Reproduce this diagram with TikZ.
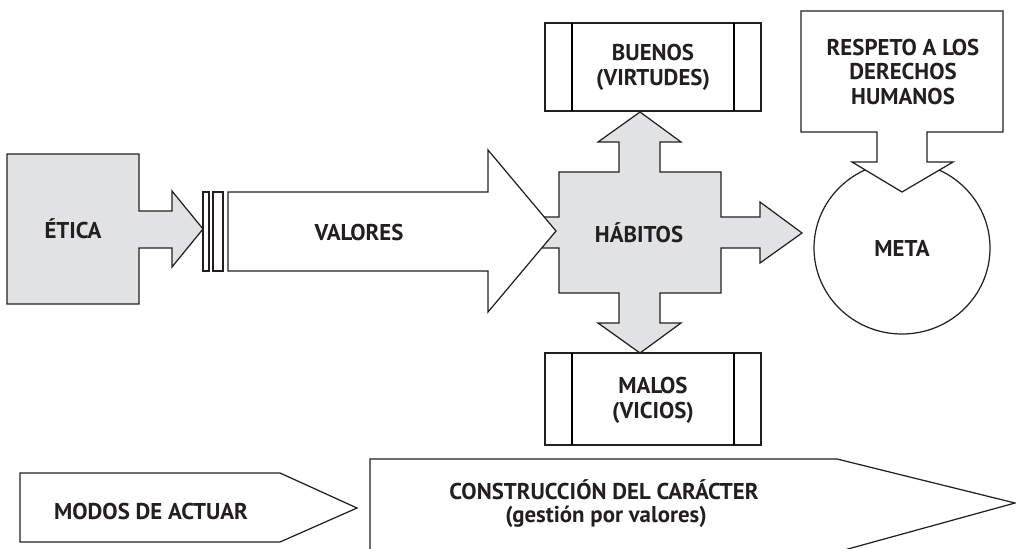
\documentclass[tikz,border=0pt]{standalone}
\usepackage{fontspec}
\setmainfont{PT Sans}
\definecolor{grisclaro}{RGB}{225,226,228}
\definecolor{tinta}{RGB}{35,31,32}
\begin{document}
\begin{tikzpicture}[x=0.02cm,y=-0.02cm,line width=0.7pt,line join=miter,
  txt/.style={font=\fontsize{13}{14.2}\selectfont\bfseries,text=tinta,align=center},
  gris/.style={draw=tinta,fill=grisclaro},
  blanco/.style={draw=tinta,fill=white}]
\useasboundingbox (0,0) rectangle (1016,548);

% etica
\draw[gris] (7,154) -- (139,154) -- (139,211) -- (172,211) -- (172,191) -- (203,229)
  -- (172,267) -- (172,248) -- (139,248) -- (139,304) -- (7,304) -- cycle;
\node[txt] (E) at (73,229) {ÉTICA};

\draw[blanco] (203,192) rectangle (209,271);
\draw[blanco] (213,192) rectangle (223,271);

% habitos
\draw[gris] (530,217) -- (559,217) -- (559,172) -- (619,172) -- (619,142) -- (598,142)
  -- (640,112) -- (681,142) -- (660,142) -- (660,172) -- (721,172) -- (721,217)
  -- (760,217) -- (760,202) -- (802,233) -- (760,263) -- (760,248) -- (721,248)
  -- (721,293) -- (660,293) -- (660,323) -- (681,323) -- (640,353) -- (598,323)
  -- (619,323) -- (619,293) -- (559,293) -- (559,248) -- (530,248) -- cycle;
\node[txt] (H) at (639,233) {HÁBITOS};

% valores
\draw[blanco] (228,192) -- (488,192) -- (488,150) -- (556,231) -- (488,312)
  -- (488,271) -- (228,271) -- cycle;
\node[txt] (V) at (359,232) {VALORES};

% buenos y malos
\draw[blanco] (545,23) rectangle (761,111);
\draw (572,23) -- (572,111);
\draw (734,23) -- (734,111);
\node[txt] (B) at (653,67) {BUENOS\\(VIRTUDES)};

\draw[blanco] (545,353) rectangle (761,445);
\draw (572,353) -- (572,445);
\draw (734,353) -- (734,445);
\node[txt] (M) at (653,400) {MALOS\\(VICIOS)};

% meta
\draw[blanco] (902,248) ellipse [x radius=88, y radius=86];
\node[txt] (Me) at (902,248) {META};

\draw[blanco] (801,11) -- (1003,11) -- (1003,132) -- (927,132) -- (927,162) -- (953,162)
  -- (902,192) -- (852,162) -- (877,162) -- (877,132) -- (801,132) -- cycle;
\node[txt] (R) at (903,72) {RESPETO A LOS\\DERECHOS\\HUMANOS};

% abajo
\draw[blanco] (20,473) -- (280,473) -- (357,508) -- (280,542) -- (20,542) -- cycle;
\node[txt] (MA) at (151,511) {MODOS DE ACTUAR};

\draw[blanco] (370,560) -- (370,459) -- (837,459) -- (1015,503) -- (837,552) -- (370,552);
\node[txt] (C) at (604,490) {CONSTRUCCIÓN DEL CARÁCTER};
\node[txt] (G) at (606,517) {(gestión por valores)};

\end{tikzpicture}
\end{document}
